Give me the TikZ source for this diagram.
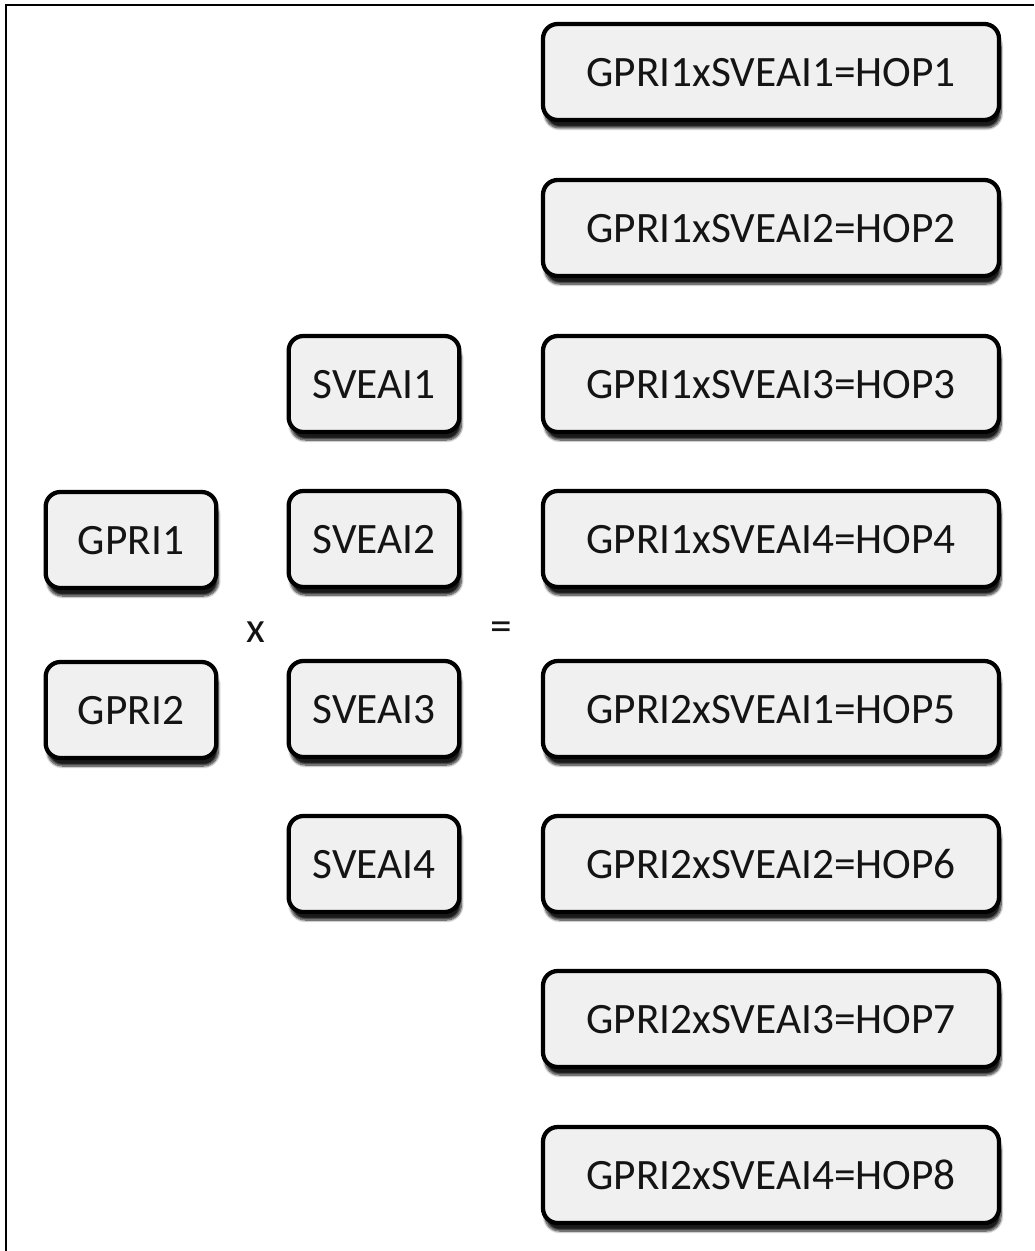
\documentclass[tikz,border=0pt]{standalone}
\usepackage{fontspec}
\setmainfont{Carlito}
\usetikzlibrary{shadows.blur}
\definecolor{boxfill}{HTML}{F0F0F0}
\definecolor{ink}{HTML}{141414}
\begin{document}
\begin{tikzpicture}[x=0.75pt,y=-0.75pt,
  label text/.style={text=ink, font=\fontsize{32.5}{38}\selectfont},
  card/.style={draw=black, line width=3.2pt, fill=boxfill, rounded corners=11pt,
    minimum height=72pt, inner sep=0pt, label text,
    text depth=-2.5pt,
    blur shadow={shadow xshift=1.5pt, shadow yshift=-6pt, shadow blur steps=8,
      shadow blur extra rounding=2pt, shadow opacity=90}},
  wide/.style={card, minimum width=342pt},
  narrow/.style={card, minimum width=128pt},
  op/.style={label text, inner sep=0pt}]
  \useasboundingbox (0,0) rectangle (1034,1251);
  % frame
  \draw[line width=2.2pt] (6,1251) -- (6,5) -- (1034,5);

  % factors
  \node[narrow] (g1) at (131,540) {GPRI1};
  \node[narrow] (g2) at (131,710) {GPRI2};
  \node[narrow] (s1) at (374,384) {SVEAI1};
  \node[narrow] (s2) at (374,539) {SVEAI2};
  \node[narrow] (s3) at (374,709) {SVEAI3};
  \node[narrow] (s4) at (374,864) {SVEAI4};
  \node[op] (times) at (256,632) {x};
  \node[op] (equals) at (501,631) {=};

  % products
  \node[wide] (h1) at (771,72)   {GPRI1xSVEAI1=HOP1};
  \node[wide] (h2) at (771,228)  {GPRI1xSVEAI2=HOP2};
  \node[wide] (h3) at (771,384)  {GPRI1xSVEAI3=HOP3};
  \node[wide] (h4) at (771,539)  {GPRI1xSVEAI4=HOP4};
  \node[wide] (h5) at (771,709)  {GPRI2xSVEAI1=HOP5};
  \node[wide] (h6) at (771,864)  {GPRI2xSVEAI2=HOP6};
  \node[wide] (h7) at (771,1019) {GPRI2xSVEAI3=HOP7};
  \node[wide] (h8) at (771,1175) {GPRI2xSVEAI4=HOP8};
\end{tikzpicture}
\end{document}
